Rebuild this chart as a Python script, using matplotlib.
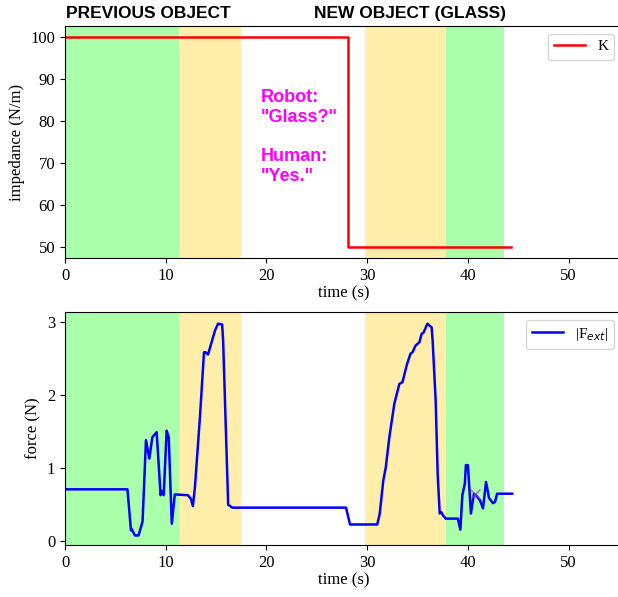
import matplotlib
matplotlib.use("Agg")
import matplotlib.pyplot as plt

# impedance schedule
k_time = [0.0, 28.1, 28.1, 44.3]
k_value = [100, 100, 50, 50]

# |F_ext|
f_time = [0.0, 6.2, 6.55, 6.6, 6.95, 7.3, 7.7, 8.04, 8.37, 8.67, 9.1, 9.49, 9.6, 9.8,
          10.09, 10.3, 10.6, 10.9, 12.2, 12.5, 12.7, 12.9, 13.4, 13.8, 13.97, 14.2,
          14.9, 15.2, 15.6, 15.7, 16.2, 16.4, 16.6, 27.9, 28.3, 31.0, 31.25, 31.6,
          31.85, 32.2, 32.7, 33.2, 33.5, 33.96, 34.3, 34.5, 34.8, 35.2, 35.4, 35.6,
          35.98, 36.4, 36.5, 36.8, 37.0, 37.2, 37.35, 37.5, 37.8, 39.0, 39.25, 39.45,
          39.7, 39.8, 40.0, 40.3, 40.6, 40.8, 41.2, 41.5, 41.8, 42.1, 42.5, 42.7,
          42.9, 44.4]
f_value = [0.71, 0.71, 0.15, 0.17, 0.08, 0.08, 0.27, 1.38, 1.13, 1.42, 1.49, 0.63, 0.69, 0.63,
           1.51, 1.42, 0.24, 0.64, 0.63, 0.58, 0.48, 0.74, 1.70, 2.58, 2.58, 2.55,
           2.88, 2.97, 2.96, 2.74, 0.50, 0.48, 0.46, 0.46, 0.23, 0.23, 0.38, 0.83,
           1.01, 1.42, 1.88, 2.15, 2.17, 2.42, 2.56, 2.58, 2.67, 2.72, 2.83, 2.85,
           2.97, 2.92, 2.74, 1.92, 0.92, 0.38, 0.40, 0.36, 0.31, 0.31, 0.16, 0.63,
           0.79, 1.04, 1.04, 0.38, 0.65, 0.63, 0.56, 0.45, 0.81, 0.59, 0.52, 0.54,
           0.65, 0.65]

# phase shading: (start, end, colour)
phases = [(0.0, 11.3, "#aaffaa"), (11.3, 17.5, "#ffeeaa"),
          (29.8, 37.8, "#ffeeaa"), (37.8, 43.6, "#aaffaa")]

plt.rcParams["font.family"] = ["Liberation Serif", "DejaVu Serif"]
plt.rcParams["font.size"] = 12

fig = plt.figure(figsize=(6.18, 5.97), dpi=100)
ax1 = fig.add_axes([65 / 618, (597 - 258) / 597, 557 / 618, 232 / 597])
ax2 = fig.add_axes([65 / 618, (597 - 545) / 597, 557 / 618, 233 / 597])

for ax in (ax1, ax2):
    for a, b, c in phases:
        ax.axvspan(a, b, color=c, lw=0, zorder=0)
    ax.set_xlim(0, 55.3)
    ax.set_xticks([0, 10, 20, 30, 40, 50])
    ax.set_xlabel("time (s)", labelpad=1)
    ax.tick_params(labelsize=12)

ax1.plot(k_time, k_value, color="red", lw=1.8, label="K")
ax1.set_ylim(47.5, 102.5)
ax1.set_ylabel("impedance (N/m)")
ax1.legend(loc="upper right", fontsize=11)
ax1.text(19.4, 87.6, 'Robot:\n"Glass?"\n\nHuman:\n"Yes."', color="#ff00ff",
         fontsize=13, fontweight="bold", family="Liberation Sans", va="top",
         linespacing=1.22)

ax1.text(8.3, 1.02, "PREVIOUS OBJECT", transform=ax1.get_xaxis_transform(),
         ha="center", va="bottom", fontsize=12.5, fontweight="bold",
         family="Liberation Sans")
ax1.text(34.3, 1.02, "NEW OBJECT (GLASS)", transform=ax1.get_xaxis_transform(),
         ha="center", va="bottom", fontsize=12.5, fontweight="bold",
         family="Liberation Sans")

ax2.plot(f_time, f_value, color="blue", lw=1.8, label="|F$_{ext}$|")
ax2.plot([40.7], [0.65], marker="x", color="#9933cc", ms=7, alpha=0.7, lw=0)
ax2.set_ylim(-0.05, 3.13)
ax2.set_yticks([0, 1, 2, 3])
ax2.set_ylabel("force (N)")
ax2.legend(loc="upper right", fontsize=11)

fig.savefig("out.png", dpi=100)
